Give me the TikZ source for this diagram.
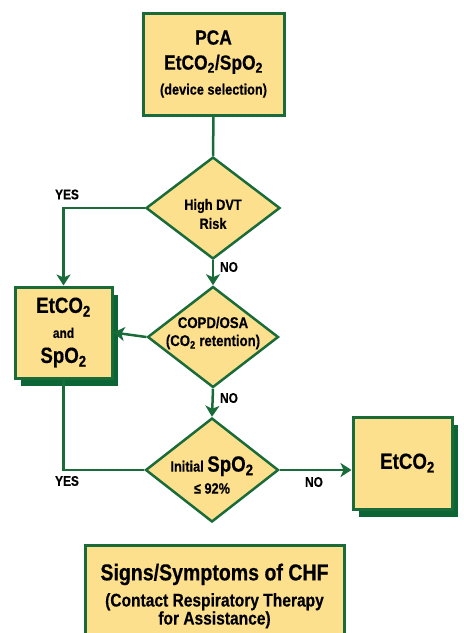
\documentclass[tikz,border=0pt]{standalone}
\usepackage{fontspec}
\setmainfont{Liberation Sans}[FakeStretch=0.85,BoldFeatures={FakeBold=0.4}]
\usetikzlibrary{arrows.meta,shapes.geometric,shadows}
\definecolor{boxfill}{HTML}{FDE08D}
\definecolor{grn}{HTML}{1A6B3A}
\definecolor{shadowgrn}{HTML}{0B6535}
\newcommand{\fsz}[2]{\fontsize{#1}{#2}\selectfont}
\begin{document}
\begin{tikzpicture}[x=1pt,y=-1pt,font=\bfseries,
  boxstyle/.style={draw=grn,line width=3pt,fill=boxfill,inner sep=0pt,align=center},
  boxshadow/.style={general shadow={fill=shadowgrn,shadow xshift=6pt,shadow yshift=-8pt}},
  decision/.style={diamond,draw=grn,line width=2.5pt,fill=boxfill,inner sep=0pt},
  dtext/.style={align=center,inner sep=0pt},
  conn/.style={draw=grn,line width=2.5pt},
  arr/.style={conn,-{Stealth[length=11pt,width=14pt,inset=3pt]}},
  lbl/.style={font=\bfseries\fsz{14}{14},inner sep=0pt}]
\useasboundingbox (0,0) rectangle (464,633);
% boxes
\node[boxstyle,minimum width=141pt,minimum height=102pt,font=\bfseries\fsz{20.5}{25}] (pca) at (213.5,64)
  {PCA\\ EtCO\textsubscript{2}/SpO\textsubscript{2}\\ \fsz{15}{24}(device selection)};
\node[boxstyle,boxshadow,minimum width=97pt,minimum height=91pt,font=\bfseries\fsz{22}{25}] (both) at (63.5,332.5)
  {EtCO\textsubscript{2}\\ \fsz{14}{24}and\\ \fsz{22}{26}SpO\textsubscript{2}};
\node[boxstyle,boxshadow,minimum width=99pt,minimum height=92pt,font=\bfseries\fsz{22}{22}] (etco) at (402.5,463)
  {\hspace*{10pt}EtCO\textsubscript{2}};
% decisions
\node[decision,minimum width=134pt,minimum height=102pt] (dvt) at (213,208) {};
\node[dtext,font=\bfseries\fsz{15}{19}] (dvttxt) at (213,214) {High DVT\\ Risk};
\node[decision,minimum width=131pt,minimum height=101pt] (copd) at (213,337) {};
\node[dtext,font=\bfseries\fsz{15.5}{18}] (copdtxt) at (213,333) {COPD/OSA\\ (CO\textsubscript{2} retention)};
\node[decision,minimum width=133pt,minimum height=104pt] (spo) at (212,470) {};
\node[dtext,font=\bfseries\fsz{15}{22}] (spotxt) at (212,475) {Initial {\fsz{22}{22}SpO\textsubscript{2}}\\ ≤ 92\%};
% bottom box (cut off by the page edge)
\fill[boxfill] (85,545) rectangle (344,633);
\draw[grn,line width=3pt] (85,633) -- (85,545) -- (344,545) -- (344,633);
\node[dtext,font=\bfseries\fsz{18.3}{17}] (chf) at (214.5,596)
  {\fsz{23}{27}Signs/Symptoms of CHF\\[7pt] (Contact Respiratory Therapy\\ for Assistance)};
% connectors
\draw[conn] (pca.south) -- (dvt.north);
\draw[arr] (dvt.west) -| (both.north);
\draw[arr] (dvt.south) -- (copd.north);
\draw[arr] (copd.west) -- (both.east);
\draw[arr] (copd.south) -- (spo.north);
\draw[conn] (both.south) |- (spo.west);
\draw[arr] (spo.east) -- (spo.east -| etco.west);
% labels
\node[lbl] (yes1) at (67,194.5) {YES};
\node[lbl] (no1) at (229,267) {NO};
\node[lbl] (no2) at (229,398) {NO};
\node[lbl] (yes2) at (67,481) {YES};
\node[lbl] (no3) at (314,482) {NO};
\end{tikzpicture}
\end{document}
